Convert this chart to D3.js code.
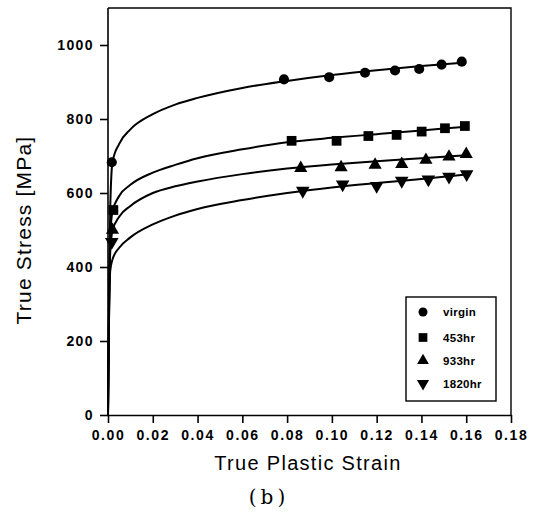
<!DOCTYPE html>
<html><head><meta charset="utf-8">
<script src="https://cdn.jsdelivr.net/npm/d3@7"></script>
<style>
html,body{margin:0;padding:0;background:#fff;}
svg{display:block;}
</style></head>
<body>
<svg id="chart" width="533" height="513"></svg>
<script>
// ---- data ----
const seriesNames = ["virgin", "453hr", "933hr", "1820hr"];

const strainVirgin = [0.0017, 0.0786, 0.0988, 0.1148, 0.1282, 0.139, 0.149, 0.158];
const stressVirgin = [683, 907, 913, 925, 931, 935, 947, 955];
const strain453 = [0.0024, 0.082, 0.1021, 0.1163, 0.1289, 0.1401, 0.1505, 0.1594];
const stress453 = [554, 741, 741, 754, 757, 766, 775, 781];
const strain933 = [0.002, 0.0861, 0.1041, 0.1193, 0.1312, 0.142, 0.1523, 0.16];
const stress933 = [500, 667, 669, 676, 678, 689, 698, 705];
const strain1820 = [0.0017, 0.087, 0.1048, 0.12, 0.1312, 0.1431, 0.1523, 0.1602];
const stress1820 = [468, 606, 623, 619, 633, 637, 644, 651];

// fitted curves
const fitStrain = [0, 0.0005, 0.001, 0.002, 0.005, 0.01, 0.02, 0.03, 0.04, 0.06, 0.08, 0.10, 0.12, 0.14, 0.16];
const fitVirgin = [0, 330, 560, 683, 733, 772, 813, 839, 857, 884, 903, 919, 932, 943, 953];
const fit453 = [0, 300, 480, 550, 592, 622, 655, 676, 694, 718, 737, 749, 759, 769, 779];
const fit933 = [0, 290, 440, 498, 536, 565, 600, 618, 631, 651, 666, 677, 686, 694, 702];
const fit1820 = [0, 280, 390, 420, 452, 480, 515, 539, 557, 581, 600, 615, 627, 638, 650];

const xTicks = [0, 0.02, 0.04, 0.06, 0.08, 0.10, 0.12, 0.14, 0.16, 0.18];
const yTicks = [0, 200, 400, 600, 800, 1000];

// ---- drawing ----
const svg = d3.select("#chart");
const L = 108, R = 511, T = 8, B = 415;
const x = d3.scaleLinear().domain([0, 0.18]).range([L, R]);
const y = d3.scaleLinear().domain([0, 1100]).range([B, T]);

const marks = [
  {name: seriesNames[0], sx: strainVirgin, sy: stressVirgin, fit: fitVirgin, sym: d3.symbolCircle, size: 80, rot: 0},
  {name: seriesNames[1], sx: strain453, sy: stress453, fit: fit453, sym: d3.symbolSquare, size: 95, rot: 0},
  {name: seriesNames[2], sx: strain933, sy: stress933, fit: fit933, sym: d3.symbolTriangle, size: 75, rot: 0},
  {name: seriesNames[3], sx: strain1820, sy: stress1820, fit: fit1820, sym: d3.symbolTriangle, size: 80, rot: 180}
];

// frame (top & right)
svg.append("path")
  .attr("d", `M${L},${T}H${R}V${B}`)
  .attr("fill", "none").attr("stroke", "#000").attr("stroke-width", 1.4);

const fontTick = "'Liberation Sans', Arial, sans-serif";

// x axis
const gx = svg.append("g").attr("transform", `translate(0,${B})`)
  .call(d3.axisBottom(x).tickValues(xTicks).tickFormat(d3.format(".2f")).tickSize(8).tickSizeOuter(0).tickPadding(7));
gx.select(".domain").attr("stroke-width", 1.6);
gx.selectAll(".tick line").attr("stroke-width", 1.6);
gx.selectAll("text").attr("font-family", fontTick).attr("font-weight", "bold")
  .attr("font-size", 14).attr("letter-spacing", "1.6px").attr("fill", "#000");

// y axis
const gy = svg.append("g").attr("transform", `translate(${L},0)`)
  .call(d3.axisLeft(y).tickValues(yTicks).tickFormat(d3.format("d")).tickSize(8).tickSizeOuter(0).tickPadding(6));
gy.select(".domain").attr("stroke-width", 1.6)
  .attr("d", `M0,${B}V${T}`);
gy.selectAll(".tick line").attr("stroke-width", 1.6);
gy.selectAll("text").attr("font-family", fontTick).attr("font-weight", "bold")
  .attr("font-size", 14).attr("letter-spacing", "1.4px").attr("fill", "#000");

// fit curves
const line = d3.line().x(d => x(d[0])).y(d => y(d[1])).curve(d3.curveMonotoneX);
marks.forEach(m => {
  const pts = fitStrain.map((s, i) => [s, m.fit[i]]);
  svg.append("path").attr("d", line(pts)).attr("fill", "none")
    .attr("stroke", "#000").attr("stroke-width", 2);
});

// markers
marks.forEach(m => {
  const sym = d3.symbol().type(m.sym).size(m.size);
  svg.append("g").selectAll("path").data(m.sx.map((s, i) => [s, m.sy[i]])).join("path")
    .attr("d", sym)
    .attr("transform", d => `translate(${x(d[0])},${y(d[1])}) rotate(${m.rot})`)
    .attr("fill", "#000");
});

// legend
const lg = svg.append("g");
lg.append("rect").attr("x", 406).attr("y", 297).attr("width", 90).attr("height", 104)
  .attr("fill", "#fff").attr("stroke", "#000").attr("stroke-width", 1.4);
const legY = [312, 337.5, 360.5, 383.5];
marks.forEach((m, i) => {
  const sym = d3.symbol().type(m.sym).size(m.size * 0.8);
  lg.append("path").attr("d", sym)
    .attr("transform", `translate(423,${legY[i]}) rotate(${m.rot})`).attr("fill", "#000");
  lg.append("text").attr("x", 443).attr("y", legY[i]).attr("dy", "0.35em")
    .attr("font-family", fontTick).attr("font-weight", "bold").attr("font-size", 11.5)
    .attr("letter-spacing", "0.3px")
    .text(m.name);
});

// axis titles
svg.append("text").attr("x", 308).attr("y", 470).attr("text-anchor", "middle")
  .attr("font-family", fontTick).attr("font-size", 20).attr("letter-spacing", "1.3px")
  .text("True Plastic Strain");
svg.append("text").attr("transform", "translate(31,230) rotate(-90)").attr("text-anchor", "middle")
  .attr("font-family", fontTick).attr("font-size", 21).attr("letter-spacing", "1.2px")
  .text("True Stress [MPa]");
svg.append("text").attr("x", 269).attr("y", 504).attr("text-anchor", "middle")
  .attr("font-family", "'DejaVu Serif', 'Liberation Serif', serif").attr("font-size", 20)
  .attr("letter-spacing", "4px")
  .text("(b)");
</script>
</body></html>
